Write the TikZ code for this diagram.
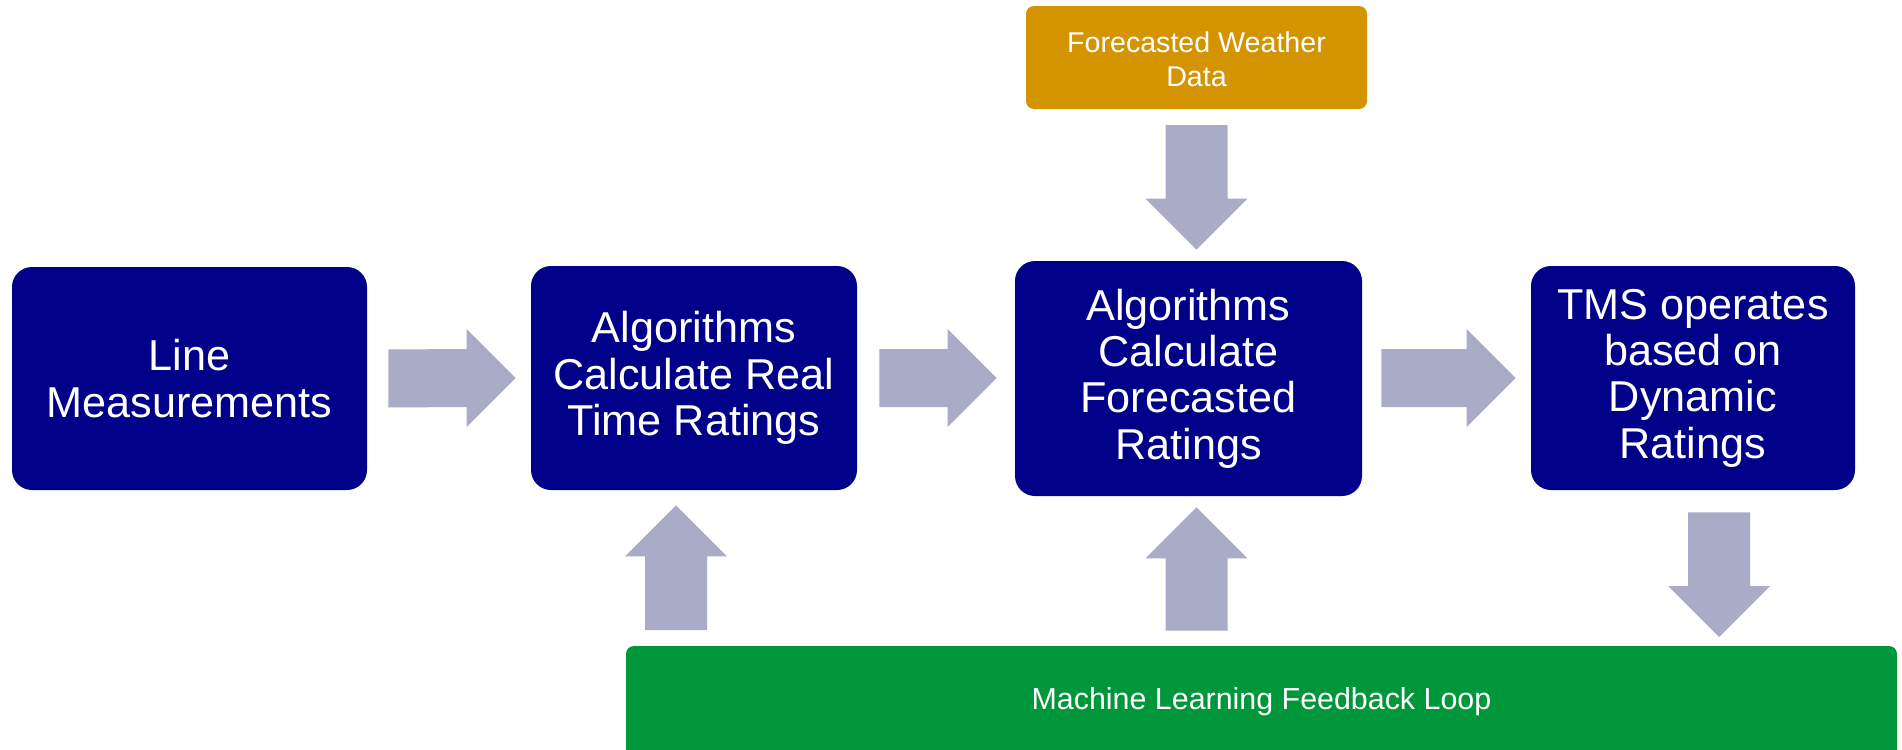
\documentclass[tikz,border=0pt]{standalone}
\usepackage{fontspec}
\setmainfont{Liberation Sans}
\usetikzlibrary{calc}
\definecolor{boxnavy}{HTML}{000088}
\definecolor{arrowgray}{HTML}{AAABC7}
\definecolor{wxorange}{HTML}{D49400}
\definecolor{mlgreen}{HTML}{00973A}
\newcommand\harrow[2]{%
  \fill[blk] ($#1+(0,-29)$) -- ($#2+(-49,-29)$) -- ($#2+(-49,-49)$) -- #2
    -- ($#2+(-49,49)$) -- ($#2+(-49,29)$) -- ($#1+(0,29)$) -- cycle;}
\newcommand\darrow[2]{%
  \fill[blk] ($#1+(-31,0)$) -- ($#2+(-31,-51)$) -- ($#2+(-51,-51)$) -- #2
    -- ($#2+(51,-51)$) -- ($#2+(31,-51)$) -- ($#1+(31,0)$) -- cycle;}
\newcommand\uarrow[2]{%
  \fill[blk] ($#1+(-31,0)$) -- ($#2+(-31,51)$) -- ($#2+(-51,51)$) -- #2
    -- ($#2+(51,51)$) -- ($#2+(31,51)$) -- ($#1+(31,0)$) -- cycle;}
\begin{document}
\begin{tikzpicture}[x=0.5pt,y=-0.5pt,
  box/.style={fill=boxnavy, rounded corners=10pt, text=white, align=center,
    font=\fontsize{21.6}{23.2}\selectfont, inner sep=0pt},
  blk/.style={fill=arrowgray}]
\useasboundingbox (0,0) rectangle (1902,750);
\clip (0,0) rectangle (1902,750);
% boxes
\node[box, minimum width=177.5pt, minimum height=111.5pt] (b1) at (189.5,378.5) {Line\\Measurements};
\node[box, minimum width=163pt, minimum height=112pt] (b2) at (694,378) {Algorithms\\Calculate Real\\Time Ratings};
\node[box, minimum width=173.5pt, minimum height=117.5pt] (b3) at (1188.5,378.5) {Algorithms\\Calculate\\Forecasted\\Ratings};
\node[box, minimum width=162pt, minimum height=112pt] (b4) at (1693,378) {TMS operates\\based on\\Dynamic\\Ratings};
\fill[wxorange, rounded corners=4pt] (1026,6) rectangle (1367,109);
\node[text=white, align=center, inner sep=0pt, minimum width=170.5pt, minimum height=51.5pt,
  font=\fontsize{14.3}{16.75}\selectfont] (fw) at (1196.5,59.5) {Forecasted Weather\\Data};
\fill[mlgreen, rounded corners=4pt] (626,646) rectangle (1897,780);
\node[text=white, inner sep=0pt, minimum width=635.5pt, minimum height=52pt,
  font=\fontsize{15.2}{18}\selectfont] (ml) at (1261.5,702) {Machine Learning Feedback Loop};
% horizontal arrows
\coordinate (a1s) at ($(b1.east)+(21,0)$);
\coordinate (a1e) at ($(b2.west)+(-15,0)$);
\harrow{(a1s)}{(a1e)}
\coordinate (a2s) at ($(b2.east)+(22,0)$);
\coordinate (a2e) at ($(b3.west |- b2.west)+(-18,0)$);
\harrow{(a2s)}{(a2e)}
\coordinate (a3s) at ($(b3.east |- b2.east)+(19,0)$);
\coordinate (a3e) at ($(b4.west)+(-15,0)$);
\harrow{(a3s)}{(a3e)}
% vertical arrows
\coordinate (d1s) at (1196.5,125);
\coordinate (d1e) at ($(d1s |- b3.north)+(0,-11)$);
\darrow{(d1s)}{(d1e)}
\coordinate (u1s) at (676,630);
\coordinate (u1e) at ($(u1s |- b2.south)+(0,15)$);
\uarrow{(u1s)}{(u1e)}
\coordinate (u2s) at (1196.5,630.5);
\coordinate (u2e) at ($(u2s |- b3.south)+(0,11)$);
\uarrow{(u2s)}{(u2e)}
\coordinate (d2s) at ($(1719,0 |- b4.south)+(0,22)$);
\coordinate (d2e) at (1719,637);
\darrow{(d2s)}{(d2e)}
\end{tikzpicture}
\end{document}
